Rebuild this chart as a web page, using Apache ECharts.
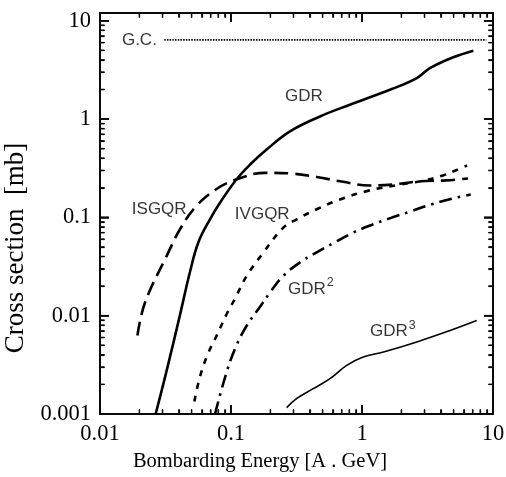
<!DOCTYPE html>
<html>
<head>
<meta charset="utf-8">
<script src="https://cdn.jsdelivr.net/npm/echarts@6/dist/echarts.min.js"></script>
<style>
html,body{margin:0;padding:0;background:#fff;}
#chart{width:506px;height:477px;}
</style>
</head>
<body>
<div id="chart"></div>
<script>
// ---- data (log-log) ----
var xTickLabels = [0.01, 0.1, 1, 10];
var yTickLabels = [0.001, 0.01, 0.1, 1, 10];
var xRange = [0.01, 10];
var yRange = [0.001, 12];

var gcX = [0.031, 8.9];
var gcY = [6.4, 6.4];

var gdrX = [0.0266, 0.0321, 0.0408, 0.0486, 0.0563, 0.0691, 0.0824, 0.110, 0.140, 0.187, 0.282, 0.478, 0.809, 1.69, 2.62, 3.30, 4.98, 7.08];
var gdrY = [0.001, 0.00268, 0.0102, 0.0278, 0.0556, 0.0957, 0.141, 0.243, 0.345, 0.490, 0.750, 1.064, 1.40, 2.02, 2.61, 3.30, 4.26, 4.97];

var isgqrX = [0.0193, 0.0221, 0.0323, 0.0408, 0.0531, 0.0755, 0.110, 0.182, 0.282, 0.451, 0.716, 1.15, 1.73, 2.67, 4.38, 6.44];
var isgqrY = [0.00629, 0.0137, 0.0406, 0.0757, 0.126, 0.190, 0.243, 0.284, 0.280, 0.258, 0.230, 0.211, 0.216, 0.232, 0.238, 0.249];

var ivgqrX = [0.0525, 0.0580, 0.0667, 0.0778, 0.0927, 0.107, 0.132, 0.177, 0.251, 0.318, 0.451, 0.679, 1.087, 1.95, 3.03, 4.15, 4.95, 6.34];
var ivgqrY = [0.00134, 0.00240, 0.00410, 0.00629, 0.0104, 0.0148, 0.0255, 0.0440, 0.0788, 0.0957, 0.121, 0.152, 0.185, 0.216, 0.238, 0.267, 0.293, 0.337];

var gdr2X = [0.0755, 0.0927, 0.110, 0.132, 0.162, 0.199, 0.251, 0.336, 0.451, 0.604, 0.859, 1.22, 1.69, 2.39, 3.40, 4.84, 6.76];
var gdr2Y = [0.001, 0.00268, 0.00498, 0.00794, 0.0117, 0.0173, 0.0255, 0.0348, 0.0440, 0.0547, 0.0702, 0.0851, 0.0995, 0.116, 0.136, 0.155, 0.171];

var gdr3X = [0.266, 0.318, 0.425, 0.570, 0.764, 1.02, 1.46, 2.62, 4.70, 7.51];
var gdr3Y = [0.00116, 0.00144, 0.00181, 0.00229, 0.00312, 0.00380, 0.00427, 0.00540, 0.00706, 0.00892];

// curve labels (anchored at their left edge, in data coordinates)
var labelText = ['G.C.', 'GDR', 'ISGQR', 'IVGQR', 'GDR{sup|2}', 'GDR{sup|3}'];
var labelX = [0.0147, 0.258, 0.0175, 0.107, 0.272, 1.15];
var labelY = [6.37, 1.69, 0.121, 0.107, 0.0187, 0.00686];

// ---- helpers ----
function pairs(xs, ys) { return xs.map(function (x, i) { return [x, ys[i]]; }); }
function minorTicks(decades) {
  var out = [];
  decades.forEach(function (d) { for (var k = 2; k <= 9; k++) out.push(k * d); });
  return out;
}
var xMinor = minorTicks([0.01, 0.1, 1]);
var yMinor = minorTicks([0.001, 0.01, 0.1, 1]);

var serif = 'Liberation Serif';
var sans = 'Liberation Sans';
var INK = '#0a0a0a';

function logAxis(range, pos, withLabels) {
  return {
    type: 'log', logBase: 10, min: range[0], max: range[1], position: pos,
    axisLine: { show: true, onZero: false, lineStyle: { color: INK, width: 2 } },
    axisTick: { show: true, inside: true, length: 9, lineStyle: { color: INK, width: 1.5 } },
    minorTick: { show: true, splitNumber: 9, length: 4.5, lineStyle: { color: INK, width: 1.2 } },
    axisLabel: { show: withLabels, color: '#000', fontFamily: serif, fontSize: 22.5, margin: 9 },
    splitLine: { show: false }
  };
}

var xAxes = [logAxis(xRange, 'bottom', true), logAxis(xRange, 'top', false)];
xAxes[0].name = 'Bombarding Energy [A . GeV]';
xAxes[0].nameLocation = 'middle';
xAxes[0].nameGap = 22;
xAxes[0].nameTextStyle = { color: '#000', fontFamily: serif, fontSize: 20.5, padding: [0, 73, 0, 0] };

var yAxes = [logAxis(yRange, 'left', true), logAxis(yRange, 'right', false)];
yAxes[0].name = 'Cross section  [mb]';
yAxes[0].nameLocation = 'middle';
yAxes[0].nameGap = 64;
yAxes[0].nameTextStyle = { color: '#000', fontFamily: serif, fontSize: 27, padding: [0, 69, 0, 0] };

function lineSeries(name, xs, ys, width, type) {
  return {
    name: name, type: 'line', data: pairs(xs, ys), xAxisIndex: 0, yAxisIndex: 0,
    smooth: 0.4, showSymbol: false, symbol: 'none',
    lineStyle: { color: '#000', width: width, type: type, cap: 'butt' }
  };
}

// tick values for the inward marks on all four sides
var tickData = [];
xTickLabels.forEach(function (v) { tickData.push([v, 1, 0, 9]); });
xMinor.forEach(function (v) { tickData.push([v, 1, 0, 4.5]); });
yTickLabels.forEach(function (v) { tickData.push([1, v, 1, 9]); });
yMinor.forEach(function (v) { tickData.push([1, v, 1, 4.5]); });

function tickLine(p, dx, dy, len) {
  return { type: 'line', shape: { x1: p[0], y1: p[1], x2: p[0] + dx * len, y2: p[1] + dy * len },
    style: { stroke: INK, lineWidth: len > 5 ? 1.5 : 1.2 } };
}

var option = {
  animation: false,
  grid: { left: 100, right: 13, top: 13, bottom: 63, outerBoundsMode: 'none' },
  xAxis: xAxes,
  yAxis: yAxes,
  series: [
    lineSeries('G.C.', gcX, gcY, 1.6, [1.5, 1.2]),
    lineSeries('GDR', gdrX, gdrY, 2.6, 'solid'),
    lineSeries('ISGQR', isgqrX, isgqrY, 2.6, [14, 7]),
    lineSeries('IVGQR', ivgqrX, ivgqrY, 2.6, [6, 7]),
    lineSeries('GDR2', gdr2X, gdr2Y, 2.6, [13, 6, 2.5, 6]),
    lineSeries('GDR3', gdr3X, gdr3Y, 1.6, 'solid'),
    {
      type: 'custom', xAxisIndex: 0, yAxisIndex: 0, clip: false, z: 10,
      encode: { x: 0, y: 1 },
      data: tickData,
      renderItem: function (params, api) {
        var isY = api.value(2) === 1, len = api.value(3);
        if (!isY) {
          var v = api.value(0);
          var b = api.coord([v, yRange[0]]), t = api.coord([v, yRange[1]]);
          return { type: 'group', children: [tickLine(b, 0, -1, len), tickLine(t, 0, 1, len)] };
        }
        var w = api.value(1);
        var l = api.coord([xRange[0], w]), r = api.coord([xRange[1], w]);
        return { type: 'group', children: [tickLine(l, 1, 0, len), tickLine(r, -1, 0, len)] };
      }
    },
    {
      name: 'labels', type: 'scatter', symbolSize: 0, xAxisIndex: 0, yAxisIndex: 0,
      data: labelX.map(function (x, i) { return { value: [x, labelY[i]], text: labelText[i] }; }),
      label: {
        show: true, position: 'right', distance: 0, color: '#000', fontFamily: sans, fontSize: 17,
        formatter: function (p) { return p.data.text; },
        rich: { sup: { fontFamily: sans, fontSize: 12.5, color: '#000', padding: [0, 0, 12, 1] } }
      }
    }
  ]
};

var chart = echarts.init(document.getElementById('chart'));
chart.setOption(option);

// the same tick marks again as graphic lines, placed through the grid's own scales
try {
  var els = [];
  tickData.forEach(function (d) {
    var len = d[3];
    if (d[2] === 0) {
      var b = chart.convertToPixel({ gridIndex: 0 }, [d[0], yRange[0]]);
      var t = chart.convertToPixel({ gridIndex: 0 }, [d[0], yRange[1]]);
      els.push(tickLine(b, 0, -1, len), tickLine(t, 0, 1, len));
    } else {
      var l = chart.convertToPixel({ gridIndex: 0 }, [xRange[0], d[1]]);
      var r = chart.convertToPixel({ gridIndex: 0 }, [xRange[1], d[1]]);
      els.push(tickLine(l, 1, 0, len), tickLine(r, -1, 0, len));
    }
  });
  els.forEach(function (e) { e.z = 100; e.silent = true; });
  chart.setOption({ graphic: { elements: els } });
} catch (e) { /* keep the chart as drawn */ }
</script>
</body>
</html>
